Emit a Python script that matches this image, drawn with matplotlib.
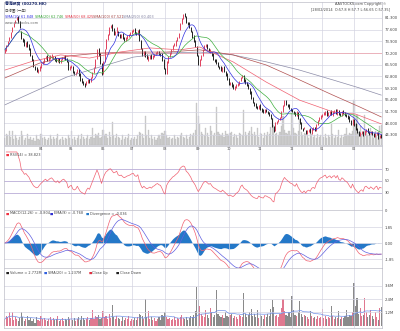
import numpy as np
import pandas as pd
import matplotlib
matplotlib.use('Agg')
import matplotlib.pyplot as plt
from matplotlib.transforms import blended_transform_factory

plt.rcParams['font.family'] = ['DejaVu Sans', 'Noto Sans CJK TC']

# HK trading days, 25 Feb 2013 - 28 Feb 2014
holidays = ['2013-03-29', '2013-04-01', '2013-04-04', '2013-05-01', '2013-05-17',
            '2013-06-12', '2013-07-01', '2013-09-20', '2013-10-01', '2013-10-14',
            '2013-12-25', '2013-12-26', '2014-01-01', '2014-01-31', '2014-02-03']

opens = [70.5, 71.0, 72.6, 74.2, 75.3, 77.0, 78.6, 79.8, 80.9, 81.8,
         80.2, 77.0, 74.6, 74.3, 72.5, 73.6, 72.8, 71.6, 69.3,
         68.2, 65.8, 65.4, 64.2, 64.9, 65.6, 66.9, 67.2, 68.5, 69.2,
         67.8, 68.4, 69.0, 68.4, 69.1, 68.3, 67.5, 68.5, 67.2,
         68.1, 68.5, 69.2, 68.4, 67.5, 65.0, 65.6, 66.0, 64.4, 63.4,
         64.0, 64.9, 63.5, 61.9, 61.2, 60.6, 60.2, 60.9, 61.8,
         61.2, 62.4, 64.1, 65.7, 68.4, 71.5, 69.8, 66.7, 63.8, 67.6,
         71.6, 74.5, 76.2, 78.3, 79.0, 77.7, 76.0, 76.9, 77.0,
         76.1, 75.1, 76.2, 75.0, 74.1, 75.0, 75.4, 76.1, 76.6, 77.0,
         77.8, 76.7, 76.0, 77.4, 74.0, 71.5, 69.4, 70.7, 69.5,
         67.8, 68.7, 69.5, 68.4, 69.1, 69.8, 70.0, 70.7, 70.1, 69.8,
         68.2, 65.3, 63.7, 67.2, 69.1, 70.0, 71.4, 72.6, 72.8, 74.2,
         75.1, 77.7, 79.6, 81.2, 82.5, 81.7, 79.8, 79.6, 78.2,
         77.0, 75.5, 74.2, 72.2, 69.4, 66.5, 68.2, 69.5, 71.4, 72.2,
         72.9, 71.6, 70.6, 70.3, 69.8, 68.1, 67.9, 67.2, 65.9,
         65.7, 64.6, 65.7, 64.3, 63.5, 62.2, 60.2, 60.9, 60.0, 58.9,
         59.3, 59.9, 60.2, 61.5, 62.5, 63.1, 61.6, 60.9, 60.3,
         58.9, 57.8, 56.2, 54.5, 54.0, 53.3, 52.6, 53.7, 52.7, 52.1,
         51.4, 52.4, 51.7, 51.4, 50.8, 49.5, 46.9, 45.9, 47.9,
         48.6, 49.2, 49.9, 51.8, 53.7, 55.2, 53.9, 53.7, 52.6, 52.4,
         51.7, 51.4, 50.4, 51.4, 49.5, 48.3, 46.3, 46.3, 45.7,
         44.7, 45.4, 46.1, 45.0, 46.0, 46.7, 45.7, 47.7, 48.9, 49.5,
         50.1, 50.8, 51.0, 51.8, 50.4, 51.0, 51.8, 50.7, 51.4, 52.1,
         51.0, 51.8, 51.1, 50.4, 51.8, 51.4, 50.8, 50.5, 49.9,
         48.9, 47.6, 49.2, 47.7, 46.4, 45.4, 44.1, 44.7, 45.4, 44.5,
         45.4, 46.1, 45.4, 44.7, 45.4, 44.8, 43.8, 44.4, 45.1,
         43.5, 44.2]

closes = [71.2, 72.4, 73.7, 74.9, 76.5, 78.1, 79.4, 80.3, 81.3, 80.0,
          78.4, 74.9, 74.0, 72.7, 73.4, 72.4, 71.5, 69.6, 68.0,
          66.1, 65.2, 64.5, 64.8, 65.8, 66.7, 67.4, 68.3, 68.9, 68.0,
          68.6, 69.3, 69.6, 68.9, 68.0, 67.7, 68.3, 67.4, 68.0,
          68.6, 68.9, 68.3, 67.7, 65.2, 65.8, 66.1, 64.2, 63.6, 63.9,
          64.8, 63.3, 61.7, 61.0, 60.4, 59.8, 61.0, 61.7, 61.0,
          62.3, 63.9, 65.5, 68.0, 71.2, 69.6, 67.0, 63.6, 67.4, 71.2,
          74.3, 75.9, 78.1, 78.7, 77.5, 76.2, 76.8, 78.1, 75.9,
          75.3, 75.9, 74.9, 74.3, 74.9, 75.6, 75.9, 76.5, 77.2, 77.5,
          76.5, 76.2, 77.2, 74.3, 71.8, 69.6, 70.5, 69.3, 68.6,
          68.9, 69.3, 68.6, 69.3, 69.6, 70.2, 70.5, 69.9, 69.6, 68.0,
          65.5, 63.9, 67.4, 68.9, 70.2, 71.2, 72.4, 73.0, 74.0, 74.9,
          76.2, 79.4, 81.0, 82.2, 81.9, 80.0, 79.4, 78.4, 77.2,
          75.3, 74.0, 72.4, 69.6, 66.7, 68.0, 69.3, 71.2, 72.4, 72.7,
          71.8, 70.8, 71.2, 69.6, 68.3, 67.7, 67.0, 66.1, 65.5,
          64.8, 65.5, 64.5, 63.3, 62.0, 60.4, 60.7, 59.8, 59.1, 59.5,
          60.1, 60.4, 61.0, 62.3, 62.9, 61.4, 60.7, 60.1, 59.1,
          57.6, 56.0, 54.7, 53.8, 53.1, 52.8, 53.5, 52.5, 51.9, 51.6,
          52.2, 51.9, 51.2, 50.6, 49.7, 47.1, 45.6, 48.1, 48.4,
          49.0, 49.7, 51.6, 53.5, 55.0, 54.1, 53.5, 52.8, 52.2, 51.9,
          51.2, 50.6, 51.6, 49.7, 48.1, 46.5, 45.9, 46.5, 44.9,
          45.6, 45.9, 45.2, 46.2, 46.5, 45.9, 47.5, 48.7, 49.7, 50.3,
          50.6, 51.2, 51.6, 50.6, 51.2, 51.6, 50.9, 51.6, 51.9, 51.2,
          52.2, 50.9, 50.6, 51.6, 51.2, 50.6, 50.3, 49.7, 48.7,
          47.8, 49.0, 47.5, 46.2, 45.2, 44.3, 44.9, 45.2, 44.3, 45.6,
          45.9, 45.2, 44.6, 45.2, 44.6, 44.0, 44.6, 44.9, 43.3,
          44.0, 43.7]

volumes = [0.6, 0.9, 0.8, 1.2, 0.7, 1.2, 0.5, 0.8, 0.6, 0.4,
           0.7, 1.2, 0.8, 0.4, 0.6, 0.9, 0.5, 0.7, 0.4,
           0.6, 0.3, 0.8, 0.5, 0.4, 0.9, 0.6, 0.7, 0.5, 0.4,
           0.6, 0.8, 0.5, 0.7, 0.5, 0.6, 0.9, 0.4, 0.5,
           0.7, 0.4, 0.6, 0.5, 0.8, 0.6, 1.2, 0.5, 0.7, 0.4,
           0.6, 0.8, 0.5, 0.9, 0.7, 0.5, 0.6, 0.8, 0.5,
           0.7, 1.4, 0.6, 0.9, 0.8, 1.0, 0.6, 0.7, 1.3, 0.8,
           0.9, 0.6, 1.1, 0.7, 1.9, 0.8, 0.6, 0.9, 0.7,
           0.6, 0.4, 0.8, 0.5, 0.7, 0.6, 0.9, 0.4, 0.6, 0.5,
           0.7, 0.5, 0.8, 1.1, 1.0, 0.9, 0.6, 2.4, 0.8,
           1.3, 0.6, 0.8, 0.5, 0.7, 0.4, 0.6, 0.8, 0.5, 1.0,
           0.9, 1.2, 0.8, 0.6, 0.7, 0.5, 0.6, 0.8, 0.5, 0.7,
           0.6, 0.8, 1.0, 0.7, 0.6, 0.8, 0.5, 0.7, 0.9,
           0.8, 1.0, 1.3, 3.5, 2.4, 1.8, 1.1, 0.9, 0.8, 1.4,
           1.0, 0.7, 1.6, 1.2, 0.8, 1.0, 3.2, 1.1, 0.9,
           0.8, 1.0, 0.7, 1.2, 0.9, 0.8, 1.0, 1.1, 0.7, 0.9,
           0.8, 0.6, 1.0, 0.9, 0.8, 2.9, 1.1, 0.8, 1.0,
           1.2, 1.5, 0.9, 1.1, 0.8, 1.4, 0.7, 1.0, 0.9, 0.6,
           1.0, 0.8, 1.1, 0.9, 1.5, 2.3, 1.7, 0.9, 1.0,
           0.8, 1.1, 1.6, 2.4, 1.3, 1.0, 0.9, 1.2, 0.8, 2.7,
           1.4, 1.0, 0.9, 1.2, 2.2, 1.1, 0.8, 1.0, 0.9,
           0.8, 0.6, 1.3, 0.9, 0.7, 0.8, 0.6, 0.9, 0.7, 0.8,
           1.5, 0.7, 0.9, 0.6, 0.8, 0.7, 1.8, 0.9, 0.6, 0.8,
           0.7, 1.3, 0.6, 0.8, 0.7, 0.9, 1.4, 0.8, 1.0,
           0.9, 1.2, 3.8, 1.8, 2.5, 1.1, 1.6, 0.9, 1.0, 2.5,
           1.2, 0.8, 1.0, 1.4, 0.9, 0.6, 1.2, 0.8, 0.5,
           1.6, 1.7]

# long moving averages (day index, value)
sma50_idx = [0, 17, 37, 56, 76, 96, 116, 129, 151, 173, 195, 217, 232, 249]
sma50_val = [64.8, 67.4, 69.6, 68.6, 70.5, 71.8, 71.2, 72.1, 67.4, 61.0, 55.3, 51.6, 50.9, 47.8]
sma100_idx = [0, 23, 43, 63, 85, 107, 129, 151, 173, 195, 217, 235, 249]
sma100_val = [62.3, 67.0, 69.3, 70.2, 70.5, 70.5, 71.2, 69.6, 66.4, 61.7, 56.9, 53.1, 50.0]
sma250_idx = [0, 19, 41, 63, 85, 107, 129, 151, 173, 195, 217, 235, 249]
sma250_val = [53.8, 57.9, 62.6, 65.8, 68.9, 70.2, 70.5, 69.6, 67.4, 64.8, 61.7, 59.1, 56.9]

price_ticks = [81.3, 77.6, 73.9, 70.2, 66.5, 62.8, 59.1, 55.4, 51.7, 48.0, 44.3]
rsi_ticks = [70, 50, 30, 0]
macd_ticks = [1.85, 0.0, -1.85]
vol_ticks = [1.2, 2.4, 3.6]

dates = pd.bdate_range('2013-02-25', '2014-02-28', freq='C', holidays=holidays)
n = len(closes)
dates = dates[:n]
x = np.arange(n)
o = np.array(opens)
c = np.array(closes)
v = np.array(volumes)
up = c >= o

close = pd.Series(c)
sma10 = close.rolling(10, min_periods=1).mean()
sma20 = close.rolling(20, min_periods=1).mean()
d = close.diff()
gain = d.clip(lower=0).ewm(alpha=1 / 14, adjust=False).mean()
loss = (-d.clip(upper=0)).ewm(alpha=1 / 14, adjust=False).mean()
rsi = 100 - 100 / (1 + gain / loss)
macd = close.ewm(span=12, adjust=False).mean() - close.ewm(span=26, adjust=False).mean()
sig = macd.ewm(span=9, adjust=False).mean()
div = macd - sig
vsma = pd.Series(v).rolling(20, min_periods=1).mean()

month_idx = [i for i in range(1, n) if dates[i].month != dates[i - 1].month and i > 10]
month_lab = [dates[i].strftime('%m') for i in month_idx]

W, H = 400, 331
fig = plt.figure(figsize=(4, 3.31), dpi=100)
grid_c = '#d4d4e2'
txt_c = '#444444'
fs = 2.5


def px_axes(l, t, r, b):
    a = fig.add_axes([l / W, 1 - b / H, (r - l) / W, (b - t) / H])
    a.set_xlim(-0.5, n - 0.5)
    a.set_xticks(month_idx)
    a.tick_params(axis='x', length=0, labelbottom=False)
    a.grid(color=grid_c, lw=0.5)
    for s in a.spines.values():
        s.set_color('#bdbdc8')
        s.set_linewidth(0.5)
    return a


def right_ticks(a):
    a.yaxis.tick_right()
    a.tick_params(axis='y', length=0, pad=2, labelsize=2.7, labelcolor=txt_c)


def ftext(px, py, s, **kw):
    kw.setdefault('fontsize', fs)
    fig.text(px / W, 1 - py / H, s, va='center', **kw)


# ---- price panel
ax = px_axes(4, 2, 382, 145)
ax.set_ylim(41.13, 86.32)
ax.set_yticks(price_ticks)
ax.set_yticklabels([f'{t:.3f}' for t in price_ticks])
axv = ax.twinx()
axv.bar(x, v, width=0.75, color='#cfcfcf', edgecolor='#b8b8b8', linewidth=0.2)
axv.set_ylim(0, 12)
axv.axis('off')
ax.set_zorder(axv.get_zorder() + 1)
ax.patch.set_visible(False)
right_ticks(ax)
ax.axhline(70.2, color='#f0a0a8', lw=0.5)
ax.vlines(x, np.minimum(o, c) - 0.25, np.maximum(o, c) + 0.25,
          colors=np.where(up, '#e0405c', '#202020'), lw=0.7)
ax.plot(sma250_idx, sma250_val, color='#8c8ca8', lw=0.5)
ax.plot(sma100_idx, sma100_val, color='#b05050', lw=0.5)
ax.plot(sma50_idx, sma50_val, color='#f06070', lw=0.5)
ax.plot(x, sma20, color='#40b040', lw=0.5)
ax.plot(x, sma10, color='#3030e0', lw=0.5)

ftext(5, 4, '粵海投資 (00270.HK)', color='#1a2a6a', fontweight='bold', fontsize=2.8)
ftext(5, 10.5, '日線圖 (一年)', color=txt_c)
ftext(5, 17, 'SMA(10) 61.848', color='#3030e0')
ftext(35, 17, 'SMA(20) 62.746', color='#30a030')
ftext(65, 17, 'SMA(50) 68.425', color='#e03040')
ftext(93, 17, 'SMA(100) 67.521', color='#a04040')
ftext(123, 17, 'SMA(250) 60.403', color='#8080a0')
ftext(5, 23.5, 'www.aastocks.com', color='#666666')
ftext(386, 3.5, 'AASTOCKS.com Copyright ©', color=txt_c, ha='right')
ftext(390, 9, '[28/02/2014  O:57.8 H:57.7 L:56.65 C:57.35]', color=txt_c, ha='right')

# ---- RSI panel (top strip holds month labels)
ar = px_axes(4, 146, 382, 210)
ar.set_ylim(0, 110.3)
ar.set_yticks(rsi_ticks)
ar.set_yticklabels([str(t) for t in rsi_ticks])
right_ticks(ar)
for t in [70, 50, 30]:
    ar.axhline(t, color='#b8a8d8', lw=0.5)
ar.plot(x, rsi, color='#f06070', lw=0.5)
tr = blended_transform_factory(ax.transData, fig.transFigure)
for i, lab in zip(month_idx, month_lab):
    fig.text(i, 1 - 148.5 / H, lab, transform=tr, ha='center', va='center',
             fontsize=fs, color=txt_c)
ftext(6, 155, '■', color='#f03040')
ftext(9.5, 155, 'RSI(14) = 38.823', color=txt_c)

# ---- MACD panel
am = px_axes(4, 210, 382, 268)
am.set_ylim(-2.89, 3.82)
am.set_yticks(macd_ticks)
am.set_yticklabels([f'{t:.2f}' for t in macd_ticks])
right_ticks(am)
am.fill_between(x, div, 0, color='#2478c8', lw=0)
am.plot(x, macd, color='#f06070', lw=0.5)
am.plot(x, sig, color='#6060e0', lw=0.5)
ftext(6, 213.5, '■', color='#f03040')
ftext(9.5, 213.5, 'MACD(12,26) = -0.804', color=txt_c)
ftext(50, 213.5, '■', color='#3030d0')
ftext(53.5, 213.5, 'EMA(9) = -0.768', color=txt_c)
ftext(86, 213.5, '■', color='#2478c8')
ftext(89.5, 213.5, 'Divergence = -0.036', color=txt_c)

# ---- volume panel
aq = px_axes(4, 268, 382, 328)
aq.set_ylim(-0.18, 5.16)
aq.set_yticks(vol_ticks)
aq.set_yticklabels([f'{t:.1f}M' for t in vol_ticks])
right_ticks(aq)
aq.bar(x, v, width=0.75, color=np.where(up, '#e07890', '#8a8a8a'), linewidth=0)
aq.plot(x, vsma, color='#7090e8', lw=0.5)
ftext(6, 273, '■', color='#202020')
ftext(9.5, 273, 'Volume = 2.772M', color=txt_c)
ftext(44, 273, '■', color='#3060e0')
ftext(47.5, 273, 'SMA(20) = 1.237M', color=txt_c)
ftext(89, 273, '■', color='#e03040')
ftext(92.5, 273, 'Close Up', color=txt_c)
ftext(116, 273, '■', color='#202020')
ftext(119.5, 273, 'Close Down', color=txt_c)

fig.savefig('out.png', dpi=100)
plt.close(fig)
